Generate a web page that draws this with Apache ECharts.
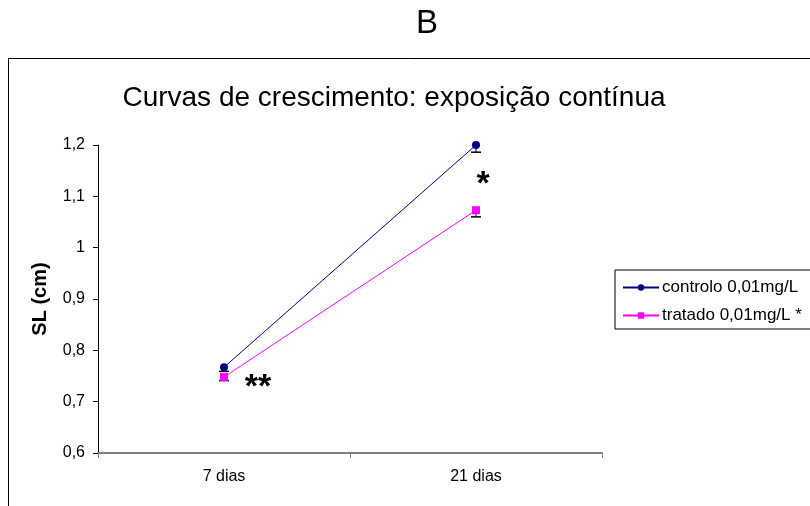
<!DOCTYPE html>
<html><head><meta charset="utf-8">
<script src="https://cdn.jsdelivr.net/npm/echarts@6/dist/echarts.min.js"></script>
<style>html,body{margin:0;padding:0;background:#fff}#c{width:810px;height:506px}</style>
</head><body><div id="c"></div>
<script>
const categories = ['7 dias', '21 dias'];
const controloName = 'controlo 0,01mg/L';
const tratadoName = 'tratado 0,01mg/L *';
const controlo = [0.767, 1.2];
const tratado = [0.748, 1.073];
const controloErr = [0.008, 0.014];
const tratadoErr = [0.007, 0.013];
const annotations = [
  {cat: 0, value: 0.728, text: '**', dx: 34},
  {cat: 1, value: 1.123, text: '*', dx: 7}
];
const FONT = 'Liberation Sans, Arial, sans-serif';

const chart = echarts.init(document.getElementById('c'), null, {renderer: 'canvas'});

function errSeries(vals, errs) {
  return {
    type: 'custom',
    silent: true,
    z: 1,
    data: vals.map((v, i) => [i, v, errs[i]]),
    renderItem: function (params, api) {
      const top = api.coord([api.value(0), api.value(1)]);
      const bot = api.coord([api.value(0), api.value(1) - api.value(2)]);
      return {
        type: 'group',
        children: [
          {type: 'line', shape: {x1: top[0], y1: top[1], x2: bot[0], y2: bot[1]}, style: {stroke: '#000', lineWidth: 1}},
          {type: 'line', shape: {x1: bot[0] - 5, y1: bot[1], x2: bot[0] + 5, y2: bot[1]}, style: {stroke: '#000', lineWidth: 1.5}}
        ]
      };
    }
  };
}

const option = {
  animation: false,
  backgroundColor: '#fff',
  textStyle: {fontFamily: FONT},
  grid: {left: 98, right: 208, top: 145, bottom: 53},
  legend: {
    orient: 'vertical',
    left: 615, top: 270,
    data: [controloName, tratadoName],
    borderColor: '#000', borderWidth: 1, borderRadius: 0,
    padding: [9, 40, 5, 7],
    itemGap: 11,
    itemWidth: 36, itemHeight: 8,
    textStyle: {fontFamily: FONT, fontSize: 17, color: '#000', padding: [0, 0, 0, -2]}
  },
  xAxis: {
    type: 'category',
    data: categories,
    boundaryGap: true,
    axisLine: {lineStyle: {color: '#808080', width: 2}},
    axisTick: {show: true, length: 5, lineStyle: {color: '#808080'}},
    axisLabel: {fontFamily: FONT, fontSize: 16, color: '#000', margin: 16}
  },
  yAxis: {
    type: 'value',
    min: 0.6, max: 1.2, interval: 0.1,
    name: 'SL (cm)',
    nameLocation: 'middle',
    nameGap: 48,
    nameRotate: 90,
    nameTextStyle: {fontFamily: FONT, fontSize: 20, fontWeight: 'bold', color: '#000'},
    splitLine: {show: false},
    axisLine: {show: true, lineStyle: {color: '#000', width: 1}},
    axisTick: {show: true, length: 5, lineStyle: {color: '#000'}},
    axisLabel: {fontFamily: FONT, fontSize: 16, color: '#000', margin: 13,
      formatter: v => String(Math.round(v * 10) / 10).replace('.', ',')}
  },
  series: [
    errSeries(controlo, controloErr),
    errSeries(tratado, tratadoErr),
    {
      name: controloName, type: 'line', data: controlo, z: 3,
      symbol: 'circle', symbolSize: 8,
      lineStyle: {color: '#000080', width: 1},
      itemStyle: {color: '#000080'}
    },
    {
      name: tratadoName, type: 'line', data: tratado, z: 3,
      symbol: 'rect', symbolSize: 8,
      lineStyle: {color: '#FF00FF', width: 1},
      itemStyle: {color: '#FF00FF'}
    }
  ]
};
chart.setOption(option);

const graphics = [
  {type: 'rect', shape: {x: 8.5, y: 58.5, width: 850, height: 500}, style: {fill: null, stroke: '#000', lineWidth: 1}, z: -10, silent: true},
  {type: 'text', x: 427, y: 24, style: {text: 'B', fontFamily: FONT, fontSize: 33, fill: '#000', align: 'center', verticalAlign: 'middle'}},
  {type: 'text', x: 394, y: 98, style: {text: 'Curvas de crescimento: exposição contínua', fontFamily: FONT, fontSize: 28, fill: '#000', align: 'center', verticalAlign: 'middle'}}
];
annotations.forEach(a => {
  const p = chart.convertToPixel({gridIndex: 0}, [a.cat, a.value]);
  graphics.push({type: 'text', x: p[0] + a.dx, y: p[1], style: {text: a.text, fontFamily: FONT, fontSize: 34, fontWeight: 'bold', fill: '#000', align: 'center', verticalAlign: 'middle'}, z: 10});
});
chart.setOption({graphic: graphics});
</script></body></html>
